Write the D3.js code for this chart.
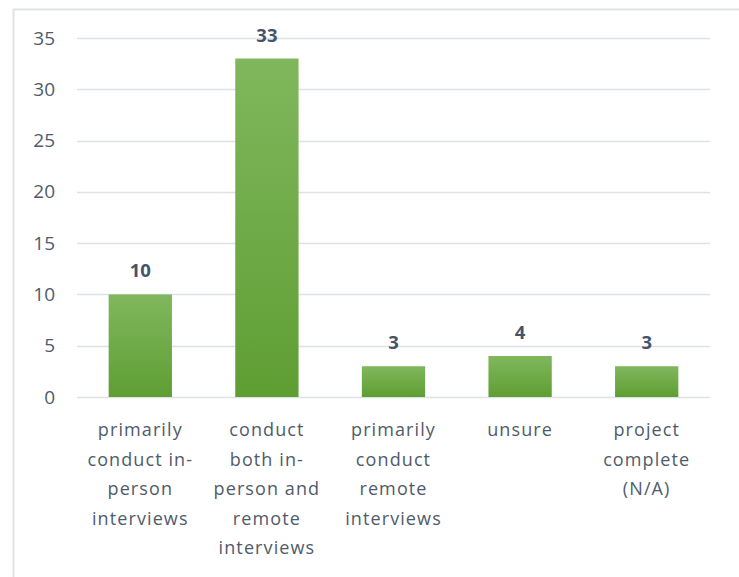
<!DOCTYPE html>
<html>
<head>
<meta charset="utf-8">
<script src="https://cdn.jsdelivr.net/npm/d3@7"></script>
<style>
  body { margin: 0; background: #fff; }
  svg { display: block; }
</style>
</head>
<body>
<svg id="container"></svg>
<script>
// data
const categories = ["primarily conduct in-person interviews", "conduct both in-person and remote interviews",
	"primarily conduct remote interviews", "unsure", "project complete (N/A)"];
const labelLines = [
	["primarily", "conduct in-", "person", "interviews"],
	["conduct", "both in-", "person and", "remote", "interviews"],
	["primarily", "conduct", "remote", "interviews"],
	["unsure"],
	["project", "complete", "(N/A)"]
];
const counts = [10, 33, 3, 4, 3];
const yTicks = [0, 5, 10, 15, 20, 25, 30, 35];

const W = 739, H = 577;
const margin = {top: 38, right: 29, bottom: 180, left: 77},
	w = W - margin.left - margin.right,
	h = H - margin.top - margin.bottom;

const svg = d3.select("#container").attr("width", W).attr("height", H);

// outer frame (cropped at right/bottom)
svg.append("rect")
	.attr("x", 13.5).attr("y", 9.5)
	.attr("width", W).attr("height", H)
	.attr("fill", "none")
	.attr("stroke", "#dfe2e6")
	.attr("stroke-width", 2);

const defs = svg.append("defs");
const grad = defs.append("linearGradient")
	.attr("id", "barGrad").attr("x1", 0).attr("y1", 0).attr("x2", 0).attr("y2", 1);
grad.append("stop").attr("offset", "0%").attr("stop-color", "#80b75d");
grad.append("stop").attr("offset", "100%").attr("stop-color", "#5f9e33");

const g = svg.append("g").attr("transform", "translate(" + margin.left + "," + margin.top + ")");

const xScale = d3.scaleBand().domain(categories).range([0, w]).paddingInner(0.5).paddingOuter(0.25);
const yScale = d3.scaleLinear().domain([0, 35]).range([h, 0]);

// gridlines
g.selectAll(".grid")
	.data(yTicks)
	.enter()
	.append("line")
	.attr("class", "grid")
	.attr("x1", 0).attr("x2", w)
	.attr("y1", d => Math.round(yScale(d)) + 0.5)
	.attr("y2", d => Math.round(yScale(d)) + 0.5)
	.attr("stroke", "#dde1e6")
	.attr("stroke-width", 1.5);

// y axis labels
const yAxis = d3.axisLeft(yScale).tickValues(yTicks).tickSize(0).tickPadding(22);
const gY = g.append("g").call(yAxis);
gY.select(".domain").remove();
gY.selectAll("text")
	.attr("fill", "#4f5b6b")
	.style("font-family", "'Open Sans', sans-serif")
	.style("font-size", "19px");

// bars
g.selectAll(".bar")
	.data(counts)
	.enter()
	.append("rect")
	.attr("class", "bar")
	.attr("x", (d, i) => xScale(categories[i]))
	.attr("y", d => yScale(d))
	.attr("width", xScale.bandwidth())
	.attr("height", d => h - yScale(d))
	.attr("fill", "url(#barGrad)");

// value labels
g.selectAll(".val")
	.data(counts)
	.enter()
	.append("text")
	.attr("class", "val")
	.attr("x", (d, i) => xScale(categories[i]) + xScale.bandwidth() / 2)
	.attr("y", d => yScale(d) - 17)
	.attr("text-anchor", "middle")
	.attr("fill", "#44546a")
	.style("font-family", "'Open Sans', sans-serif")
	.style("font-weight", "bold")
	.style("font-size", "18.5px")
	.text(d => d);

// category labels
const cats = g.selectAll(".cat")
	.data(labelLines)
	.enter()
	.append("text")
	.attr("class", "cat")
	.attr("text-anchor", "middle")
	.attr("fill", "#4f5b6b")
	.style("font-family", "'Open Sans', sans-serif")
	.style("font-size", "18px")
	.style("letter-spacing", "1.1px");

cats.each(function(lines, i) {
	const cx = xScale(categories[i]) + xScale.bandwidth() / 2;
	d3.select(this).selectAll("tspan")
		.data(lines)
		.enter()
		.append("tspan")
		.attr("x", cx)
		.attr("y", (d, j) => h + 39 + j * 29.6)
		.text(d => d);
});
</script>
</body>
</html>
